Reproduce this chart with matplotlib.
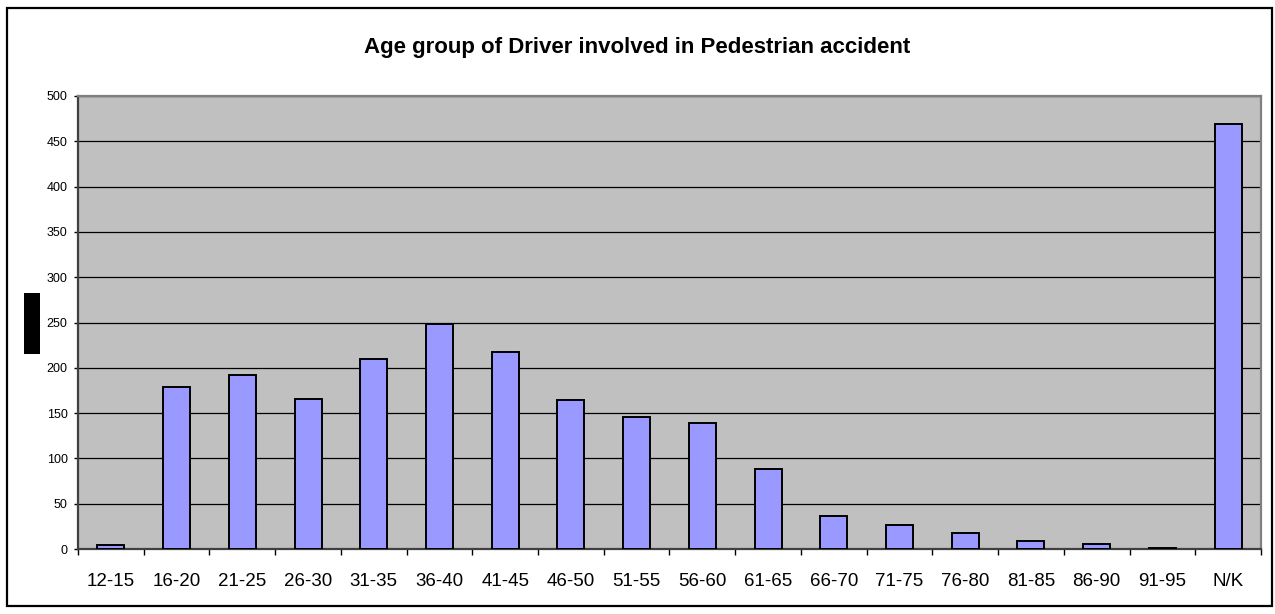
import matplotlib
matplotlib.use("Agg")
import matplotlib.pyplot as plt
from matplotlib.patches import Rectangle

plt.rcParams['font.family'] = ['Liberation Sans', 'DejaVu Sans']

# data
age_groups = ['12-15', '16-20', '21-25', '26-30', '31-35', '36-40', '41-45',
              '46-50', '51-55', '56-60', '61-65', '66-70', '71-75', '76-80',
              '81-85', '86-90', '91-95', 'N/K']
counts = [4, 179, 192, 166, 210, 248, 217, 165, 146, 139, 88, 36, 26, 18,
          9, 5, 1, 469]
y_ticks = list(range(0, 501, 50))

W, H = 1275, 614
fig = plt.figure(figsize=(W / 100, H / 100), dpi=100)

# outer chart border
fig.patches.append(Rectangle((7 / W, 1 - 606 / H), (1272 - 7) / W, (606 - 8) / H,
                             transform=fig.transFigure, fill=False,
                             edgecolor='black', linewidth=1.6))
# black box where the y axis title would be
fig.patches.append(Rectangle((24 / W, 1 - 354 / H), 16 / W, 61 / H,
                             transform=fig.transFigure, facecolor='black',
                             edgecolor='none'))

ax = fig.add_axes([78 / W, 1 - 549 / H, (1261 - 78) / W, (549 - 96) / H])
ax.set_facecolor('#C0C0C0')

x = range(len(age_groups))
ax.bar(x, counts, width=0.41, color='#9999FF', edgecolor='black',
       linewidth=1.4, zorder=3)

ax.set_xlim(-0.5, len(age_groups) - 0.5)
ax.set_ylim(0, 500)
ax.set_yticks(y_ticks)
ax.yaxis.grid(True, color='black', linewidth=0.9, zorder=1)
ax.set_axisbelow(True)

ax.set_xticks(list(x))
ax.set_xticklabels(age_groups, fontsize=13.5)
ax.set_xticks([i - 0.5 for i in range(len(age_groups) + 1)], minor=True)
ax.tick_params(axis='x', which='major', length=0, pad=17)
ax.tick_params(axis='x', which='minor', length=4.5, width=1, direction='out')
ax.tick_params(axis='y', length=3, width=1, pad=4.5, labelsize=9)

for side in ['left', 'bottom']:
    ax.spines[side].set_color('#404040')
    ax.spines[side].set_linewidth(1.6)
for side in ['top', 'right']:
    ax.spines[side].set_color('#808080')
    ax.spines[side].set_linewidth(1.6)

fig.text(0.5, 1 - 47 / H, 'Age group of Driver involved in Pedestrian accident',
         ha='center', va='center', fontsize=16, fontweight='bold')

fig.savefig('out.png', dpi=100)
plt.close(fig)
